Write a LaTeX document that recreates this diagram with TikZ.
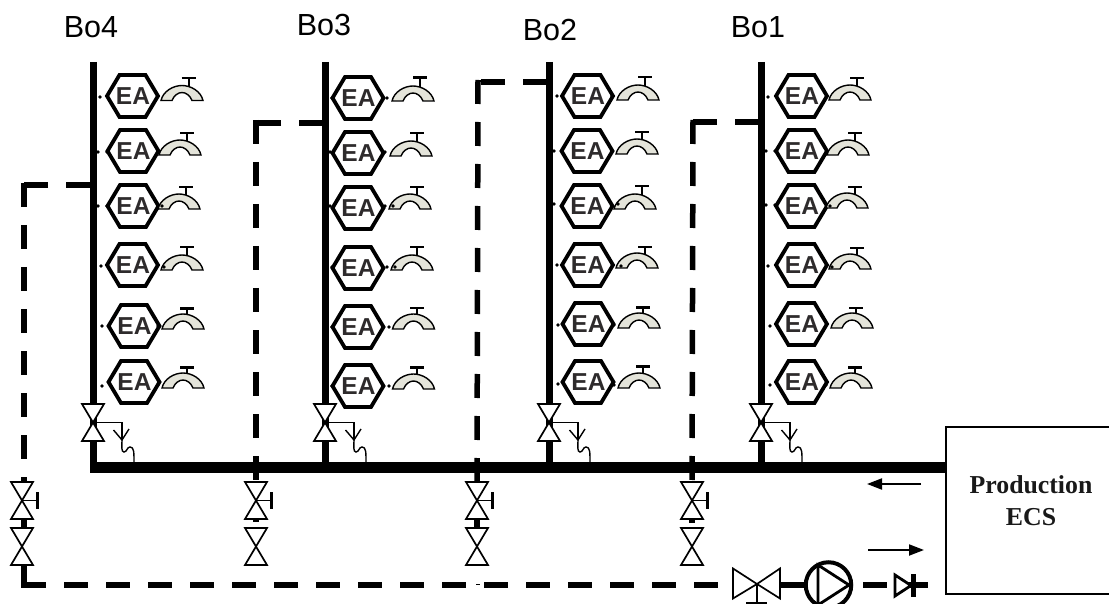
\documentclass[tikz,border=0pt]{standalone}
\usepackage{fontspec}
\setmainfont{Liberation Sans}
\newfontfamily\prodfont{Liberation Serif}
\usetikzlibrary{arrows.meta}
\definecolor{tapfill}{HTML}{E4E4DA}
\definecolor{eatext}{HTML}{2E2B2C}
\tikzset{
  riser/.style={line width=7pt},
  mainpipe/.style={line width=11.5pt},
  solidpipe/.style={line width=5.5pt},
  dashpipe/.style={line width=5.5pt,dash pattern=on 24pt off 18pt},
  valveshape/.style={draw,fill=white,line width=1.7pt,line join=miter},
  thinline/.style={line width=1.4pt},
  hexshape/.style={draw,fill=white,line width=3.8pt,line join=miter},
  tapshape/.style={draw,fill=tapfill,line width=1.4pt},
  ealabel/.style={inner sep=0pt,font=\fontsize{24.5}{24.5}\selectfont\bfseries,text=eatext},
  bolabel/.style={inner sep=0pt,font=\fontsize{30.5}{32}\selectfont},
  flow/.style={line width=2pt,-{Triangle[length=15pt,width=11pt]}},
}
\newcommand{\vvalve}[2]{%
  \path[valveshape] (#1-11,#2) -- (#1+11,#2) -- (#1,#2+18.5) -- cycle;
  \path[valveshape] (#1-11,#2+37) -- (#1+11,#2+37) -- (#1,#2+18.5) -- cycle;
}
\begin{document}
\begin{tikzpicture}[x=1pt,y=-1pt]
\useasboundingbox (0,0) rectangle (1109,604);
\clip (0,0) rectangle (1109,604);
\fill[white] (0,0) rectangle (1109,604);

% named points
\coordinate (r4t) at (93.5,62);  \coordinate (r4b) at (93.5,465);
\coordinate (r3t) at (325,62);   \coordinate (r3b) at (325,465);
\coordinate (r2t) at (549.5,62); \coordinate (r2b) at (549.5,465);
\coordinate (r1t) at (761,62);   \coordinate (r1b) at (761,465);
\coordinate (ms) at (90,467.5);  \coordinate (me) at (946,467.5);

% dashed return pipes
\coordinate (a1) at (90,185);  \coordinate (a2) at (21.25,185); \coordinate (a3) at (24,183); \coordinate (a4) at (24,482);
\coordinate (b1) at (323,123); \coordinate (b2) at (253.25,123); \coordinate (b3) at (256,120); \coordinate (b4) at (256,482);
\coordinate (c1) at (547,82);  \coordinate (c2) at (475.25,82); \coordinate (c3) at (478,80); \coordinate (c4) at (477,482);
\coordinate (d1) at (759,122); \coordinate (d2) at (690.25,122); \coordinate (d3) at (693,120); \coordinate (d4) at (692,482);
\foreach \n in {a,b,c,d}{
  \draw[dashpipe] (\n1) -- (\n2);
  \draw[dashpipe] (\n3) -- (\n4);
}
% below the first valves
\coordinate (ab1) at (24,519); \coordinate (ab2) at (24,528);
\coordinate (ab3) at (24,565); \coordinate (ab4) at (24,587.75);
\draw[solidpipe] (ab1) -- (ab2);
\draw[solidpipe] (ab3) -- (ab4);
\coordinate (bb1) at (256,519); \coordinate (bb2) at (256,522);
\coordinate (cb1) at (477,519); \coordinate (cb2) at (477,528);
\coordinate (db1) at (692,519); \coordinate (db2) at (692,523);
\draw[solidpipe] (bb1) -- (bb2);
\draw[solidpipe] (cb1) -- (cb2);
\draw[solidpipe] (db1) -- (db2);

% bottom return line
\coordinate (l1) at (22,585); \coordinate (l2) at (718,585);
\draw[dashpipe] (l1) -- (l2);
\coordinate (tick1) at (476,584.5); \coordinate (tick2) at (480,584.5);
\draw[line width=1.4pt] (tick1) -- (tick2);
\coordinate (l3) at (778,585); \coordinate (l4) at (806,585);
\draw[solidpipe] (l3) -- (l4);
\coordinate (l5) at (863,585); \coordinate (l6) at (887,585);
\draw[solidpipe] (l5) -- (l6);
\coordinate (l7) at (906,585); \coordinate (l8) at (928,585);
\draw[solidpipe] (l7) -- (l8);

% risers and main
\foreach \n in {4,3,2,1}{ \draw[riser] (r\n t) -- (r\n b); }
\draw[mainpipe] (ms) -- (me);

% riser valves with drain
\foreach \n/\x in {4/93,3/325,2/549,1/761}{
  \vvalve{\x}{404}
  \coordinate (w\n) at (\x,422.5);
  \coordinate (k\n) at (\x+29,422.5);
  \coordinate (y\n) at (\x+29,440);
  \draw[thinline] (w\n) -- (k\n) -- (y\n);
  \draw[thinline] (\x+20.5,430) -- (y\n) -- (\x+36,429);
  \draw[thinline] (y\n) .. controls (\x+29,446) and (\x+28,452) .. (\x+31,452)
     .. controls (\x+34,452) and (\x+34,447) .. (\x+37,447)
     .. controls (\x+41,447) and (\x+41,452) .. (\x+41,462);
}

% return valves
\foreach \n/\x/\bw in {a/22/3,b/256/2.2,c/477/2.2,d/692/2.2}{
  \vvalve{\x}{482}
  \vvalve{\x}{528}
  \coordinate (s\n) at (\x,500.5);
  \coordinate (t\n) at (\x+15.5,500.5);
  \draw[thinline] (s\n) -- (t\n);
  \draw[line width=\bw pt] (\x+15.5,492) -- (\x+15.5,508.5);
}

% hexagons, labels and taps
\foreach \i/\cx/\cy/\tx/\by/\hx/\hy/\bw in {
 1/132.5/96/161/100.5/188.5/78/2,  2/133/151/159/155/187/133/2,  3/133/206/158/209/186/187/2,
 4/132.5/265/161/270/187/247/2,    5/134/326/162/329/187/308/3,  6/134/382/162/388/187/367/3,
 7/358/98/392/101/420/78/3,        8/358/153/390/156/417/133/2,  9/358/208/389/209/417/187/2,
 10/358/268/391/270/417/247/2,     11/358/327/392.5/329/417/308/2, 12/358/386/392.5/389/417/367/3,
 13/587.5/96/617/100/645/77/2,     14/587/151/616/154/642/132/2, 15/587/206/614/209/642/186/2,
 16/587.5/265/616/268/645/247/2,   17/588/324/618/328/643/307/3, 18/588/382/618/388/643/366/3,
 19/801.5/96/829/100/857/78/2,     20/801.5/151/827/155/855/133/2, 21/801.5/206/826/208/855/187/2,
 22/801.5/265/829/269/857/248/2,   23/801.5/324/831/328/856/308/2, 24/801.5/382/830/388/855/367/3}{
  \path[hexshape] (\cx-25.5,\cy) -- (\cx-13,\cy-21) -- (\cx+13,\cy-21) -- (\cx+25.5,\cy)
     -- (\cx+13,\cy+21) -- (\cx-13,\cy+21) -- cycle;
  \node[ealabel] (ea\i) at (\cx+0.5,\cy+0.5) {EA};
  \draw[line width=2pt] (\hx,\by-14) -- (\hx,\hy);
  \draw[line width=\bw pt] (\hx-7,\hy) -- (\hx+7,\hy);
  \path[tapshape] (\tx,\by) .. controls (\tx+2,\by-9) and (\tx+12,\by-15) .. (\tx+21,\by-15)
     .. controls (\tx+30,\by-15) and (\tx+40,\by-9) .. (\tx+42,\by)
     -- (\tx+31,\by) .. controls (\tx+29,\by-5) and (\tx+25,\by-8) .. (\tx+21,\by-8)
     .. controls (\tx+17,\by-8) and (\tx+13,\by-5) .. (\tx+11,\by) -- cycle;
}

% small dots
\foreach \x/\y in {
 100/97, 98/152, 107/152, 98/206, 107/206, 162/206, 101/266, 164/267, 102/326, 158/326, 102/386, 158/385,
 332/98, 387/98, 330/152, 385/152, 330/206, 385/206, 393/206, 332/267, 387/267, 395/267, 332/327, 389/327, 332/386, 389/386,
 557/96, 612/96, 554/151, 554/204, 618/204, 557/265, 621/266, 558/325, 614/325, 558/384, 614/385,
 768/97, 766/151, 775/151, 766/205, 775/205, 830/206, 768/266, 832/267, 770/326, 770/385, 826/385}{
  \fill (\x,\y) circle (1.8);
}

% titles
\node[bolabel] (bo4) at (91,27) {Bo4};
\node[bolabel] (bo3) at (324,25) {Bo3};
\node[bolabel] (bo2) at (550,30) {Bo2};
\node[bolabel] (bo1) at (758,27) {Bo1};

% production box
\coordinate (p1) at (1110,427); \coordinate (p2) at (946,427);
\coordinate (p3) at (946,594);  \coordinate (p4) at (1110,594);
\draw[line width=1.8pt] (p1) -- (p2) -- (p3) -- (p4);
\node[inner sep=0pt,align=center,font=\prodfont\fontsize{25.8}{32}\selectfont\bfseries,text=black!90] (prod) at (1031,501) {Production\\ECS};

% flow arrows
\coordinate (f1) at (921,484); \coordinate (f2) at (867,484);
\coordinate (f3) at (868,550); \coordinate (f4) at (924,550);
\draw[flow] (f1) -- (f2);
\draw[flow] (f3) -- (f4);

% horizontal valve
\path[valveshape] (733,568.5) -- (733,598.5) -- (757,584) -- cycle;
\path[valveshape] (780,568.5) -- (780,598.5) -- (757,584) -- cycle;
\coordinate (hv) at (757,584); \coordinate (hvb) at (757,603);
\draw[line width=1.8pt] (hv) -- (hvb);
\coordinate (hvl) at (746,603); \coordinate (hvr) at (767,603);
\draw[line width=2pt] (hvl) -- (hvr);

% pump
\node[circle,draw,fill=white,line width=4pt,minimum size=45.5pt,inner sep=0pt] (pump) at (828.5,585) {};
\draw[line width=2.8pt,line join=miter] (818,565) -- (849,585) -- (818,605) -- cycle;

% check valve
\path[draw,fill=white,line width=2.8pt,line join=miter] (895,575) -- (895,596) -- (911,585.5) -- cycle;
\coordinate (cv1) at (913,574); \coordinate (cv2) at (913,597);
\draw[line width=5pt] (cv1) -- (cv2);
\end{tikzpicture}
\end{document}
